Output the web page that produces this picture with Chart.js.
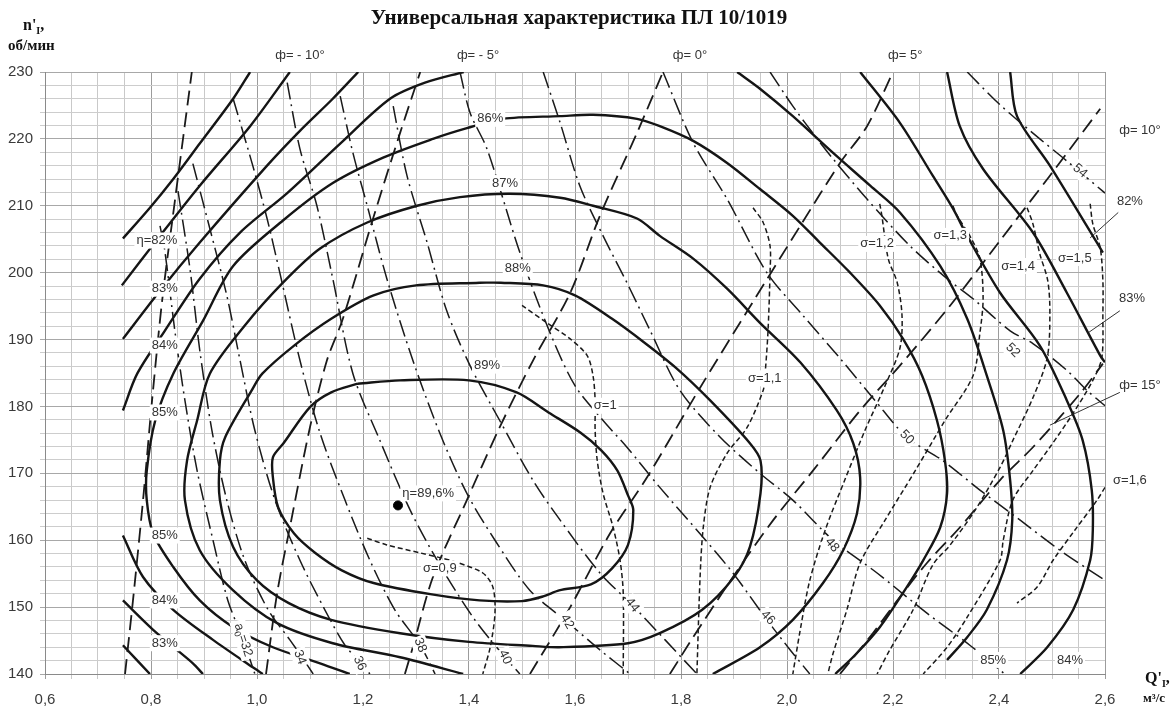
<!DOCTYPE html>
<html>
<head>
<meta charset="utf-8">
<script src="https://cdn.jsdelivr.net/npm/chart.js@4.4.1/dist/chart.umd.min.js"></script>
<style>
html,body{margin:0;padding:0;background:#fff;}
#wrap{width:1174px;height:708px;position:relative;}
</style>
</head>
<body>
<div id="wrap"><canvas id="c" width="1174" height="708"></canvas></div>
<script>
// Axis tick labels
const Q_LABELS = ['0,6','0,8','1,0','1,2','1,4','1,6','1,8','2,0','2,2','2,4','2,6'];
const N_LABELS = ['140','150','160','170','180','190','200','210','220','230'];

// Efficiency contours η = const, points [Q'1, n'1]
const eta89 = [[1.19,183.4],[1.27,183.9],[1.40,183.9],[1.49,182.1],[1.55,179.1],[1.61,176.1],[1.65,173.4],[1.68,170.4],[1.70,166.7],[1.71,164.5],[1.70,159.3],[1.67,155.8],[1.63,153.4],[1.57,152.5],[1.54,151.6],[1.50,150.9],[1.42,151.0],[1.33,151.9],[1.22,153.6],[1.16,155.5],[1.11,158.1],[1.07,161.0],[1.04,164.9],[1.03,169.4],[1.03,172.4],[1.05,174.5],[1.10,179.9],[1.14,182.1],[1.19,183.4]];
const eta88 = [[1.42,198.5],[1.30,198.1],[1.22,196.6],[1.14,193.1],[1.07,189.1],[1.01,184.9],[0.99,182.4],[0.94,175.4],[0.93,171.9],[0.93,166.0],[0.955,159.0],[1.00,154.0],[1.06,150.6],[1.14,148.1],[1.27,146.1],[1.40,144.8],[1.52,144.2],[1.57,144.0],[1.70,144.6],[1.76,146.1],[1.84,149.6],[1.90,154.5],[1.93,159.0],[1.95,167.0],[1.95,171.9],[1.93,174.5],[1.855,180.9],[1.79,185.8],[1.73,189.6],[1.67,193.1],[1.60,196.6],[1.54,198.1],[1.46,198.5],[1.42,198.5]];
const eta87 = [[1.389,140.0],[1.27,142.5],[1.143,144.6],[1.038,147.6],[0.955,152.5],[0.892,158.5],[0.864,166.0],[0.868,171.9],[0.887,177.9],[0.911,184.9],[0.977,192.1],[1.049,198.5],[1.119,203.6],[1.208,207.5],[1.302,210.0],[1.383,211.3],[1.477,211.8],[1.572,211.2],[1.634,210.0],[1.717,208.1],[1.760,205.5],[1.823,202.1],[1.887,197.6],[1.949,192.5],[2.025,186.6],[2.094,179.4],[2.125,174.5],[2.138,169.4],[2.132,164.0],[2.106,158.5],[2.068,153.6],[2.011,148.1],[1.949,144.0],[1.860,140.0]];
const eta86 = [[1.175,140.0],[1.119,141.6],[1.030,144.0],[0.955,147.0],[0.892,151.0],[0.842,156.0],[0.804,161.0],[0.792,166.0],[0.792,170.4],[0.808,177.9],[0.842,184.9],[0.898,192.8],[0.955,201.0],[1.049,207.8],[1.143,213.4],[1.238,217.2],[1.332,220.0],[1.396,221.6],[1.464,223.0],[1.572,223.4],[1.634,223.6],[1.717,223.0],[1.760,221.9],[1.823,219.7],[1.887,216.4],[1.949,212.5],[2.011,208.5],[2.062,204.5],[2.119,200.0],[2.175,195.1],[2.219,190.1],[2.255,184.6],[2.283,177.9],[2.298,171.9],[2.302,167.0],[2.289,161.9],[2.257,157.0],[2.226,153.0],[2.175,147.0],[2.128,142.8],[2.091,140.0]];
const eta85Upper = [[0.747,179.4],[0.774,184.9],[0.826,191.3],[0.892,199.1],[0.968,206.0],[1.057,211.9],[1.157,219.3],[1.251,226.0],[1.317,228.4],[1.39,230.0]];
const eta85Right = [[1.906,230.0],[1.949,227.5],[2.011,223.4],[2.087,217.9],[2.157,213.0],[2.213,209.0],[2.289,201.0],[2.340,193.1],[2.377,184.6],[2.408,176.4],[2.421,169.0],[2.425,163.0],[2.415,157.0],[2.377,149.6],[2.340,145.5],[2.302,142.1]];
const eta85Lower = [[0.747,160.7],[0.785,154.5],[0.842,149.6],[0.917,145.1],[0.992,141.0],[1.011,140.0]];
const eta84Upper = [[0.747,190.1],[0.817,197.3],[0.892,204.5],[1.019,216.0],[1.081,221.2],[1.143,226.0],[1.191,230.0]];
const eta84Right = [[2.138,230.0],[2.213,222.4],[2.275,214.5],[2.313,209.6],[2.340,205.5],[2.402,197.0],[2.477,189.1],[2.528,180.9],[2.558,174.9],[2.575,167.5],[2.577,161.5],[2.572,157.0],[2.540,149.6],[2.491,144.0],[2.440,140.0]];
const eta84Lower = [[0.747,151.0],[0.811,146.1],[0.879,141.6],[0.898,140.0]];
const eta83Upper = [[0.745,198.1],[0.817,205.5],[0.892,213.0],[0.987,221.9],[1.062,230.0]];
const eta83Right = [[2.302,230.0],[2.326,221.9],[2.370,215.5],[2.464,206.0],[2.528,197.0],[2.591,187.6],[2.600,186.6]];
const eta83Lower = [[0.747,144.3],[0.798,140.0]];
const eta82Upper = [[0.747,205.1],[0.798,209.7],[0.842,214.0],[0.892,219.3],[0.955,226.0],[0.987,230.0]];
const eta82Right = [[2.421,230.0],[2.434,223.4],[2.496,216.0],[2.577,205.5],[2.596,203.0]];
const etaMax = [[1.266,165.2]];

// Runner blade angle lines φ = const
const phiM10 = [[0.751,140.0],[0.766,151.0],[0.785,166.0],[0.802,180.9],[0.821,195.8],[0.845,210.7],[0.877,230.0]];
const phiM5 = [[1.017,140.0],[1.038,152.1],[1.062,161.9],[1.100,176.9],[1.132,186.9],[1.162,193.1],[1.219,208.1],[1.270,220.9],[1.308,230.0]];
const phi0 = [[1.279,140.0],[1.294,144.0],[1.332,154.5],[1.396,166.0],[1.458,176.9],[1.521,186.9],[1.591,197.0],[1.647,208.5],[1.717,220.9],[1.766,230.0]];
const phi5 = [[1.515,140.0],[1.591,150.0],[1.666,161.0],[1.736,169.4],[1.836,182.8],[1.930,194.9],[2.025,207.0],[2.100,216.4],[2.151,221.9],[2.200,230.0]];
const phi10 = [[1.779,140.0],[1.823,145.5],[1.898,154.5],[1.974,163.0],[2.049,170.4],[2.138,179.4],[2.213,186.1],[2.308,195.1],[2.402,204.8],[2.496,214.5],[2.591,224.5]];
const phi15 = [[2.100,140.0],[2.162,146.1],[2.213,151.5],[2.264,156.6],[2.326,161.9],[2.402,169.0],[2.464,173.9],[2.515,178.4],[2.558,182.4],[2.596,186.4]];

// Guide vane opening lines a0 = const
const a0_32 = [[0.817,207.0],[0.826,203.3],[0.845,191.3],[0.864,180.9],[0.887,170.4],[0.917,160.0],[0.945,151.0],[0.974,145.1],[0.996,140.0]];
const a0_34 = [[0.851,212.2],[0.874,200.3],[0.892,188.4],[0.915,176.4],[0.943,166.0],[0.977,157.0],[1.021,149.6],[1.062,145.1],[1.085,142.5],[1.106,140.0]];
const a0_36 = [[0.879,216.3],[0.911,206.6],[0.943,196.6],[0.968,186.9],[0.996,176.4],[1.034,166.0],[1.081,157.0],[1.128,149.6],[1.166,144.3],[1.194,141.8],[1.213,140.0]];
const a0_38 = [[0.955,226.0],[0.992,216.0],[1.019,208.1],[1.043,200.0],[1.081,186.9],[1.119,176.0],[1.166,166.0],[1.213,157.0],[1.260,149.6],[1.308,144.3],[1.336,140.0]];
const a0_40 = [[1.057,228.4],[1.081,218.5],[1.113,210.0],[1.143,199.1],[1.181,184.9],[1.232,174.9],[1.289,164.5],[1.345,156.3],[1.411,148.1],[1.468,142.5],[1.496,140.0]];
const a0_42 = [[1.157,226.4],[1.181,217.9],[1.208,210.0],[1.245,199.1],[1.294,186.9],[1.345,176.0],[1.396,167.0],[1.449,160.0],[1.515,152.5],[1.585,147.8],[1.647,143.6],[1.704,140.0]];
const a0_44 = [[1.257,224.9],[1.283,214.5],[1.321,204.5],[1.358,194.3],[1.402,186.1],[1.458,177.9],[1.521,168.9],[1.572,163.0],[1.647,155.1],[1.708,150.3],[1.770,145.1],[1.830,140.0]];
const a0_46 = [[1.383,230.0],[1.402,223.9],[1.434,218.5],[1.496,203.0],[1.553,191.0],[1.600,183.1],[1.653,177.9],[1.698,173.9],[1.760,167.9],[1.842,160.4],[1.898,155.1],[1.962,148.1],[2.006,143.6],[2.043,140.0]];
const a0_48 = [[1.540,230.0],[1.572,222.4],[1.609,213.0],[1.653,205.5],[1.698,198.5],[1.742,191.3],[1.798,182.4],[1.874,175.4],[1.949,170.0],[2.011,166.0],[2.087,160.0],[2.170,155.1],[2.264,149.1],[2.345,144.3],[2.411,140.0]];
const a0_50 = [[1.766,230.0],[1.823,219.4],[1.887,211.0],[1.962,200.0],[2.030,193.6],[2.100,187.2],[2.166,180.9],[2.226,175.4],[2.294,171.9],[2.364,167.5],[2.440,163.0],[2.515,158.5],[2.600,154.0]];
const a0_52 = [[1.968,230.0],[2.011,224.9],[2.057,220.0],[2.087,217.0],[2.151,211.0],[2.232,204.0],[2.302,199.1],[2.351,196.1],[2.421,191.3],[2.464,189.4],[2.528,185.4],[2.566,182.4],[2.600,180.1]];
const a0_54 = [[2.340,230.0],[2.402,225.1],[2.477,220.0],[2.528,216.7],[2.600,211.9]];

// Cavitation coefficient lines σ = const
const sig09 = [[1.208,160.3],[1.245,159.3],[1.308,158.1],[1.345,157.4],[1.377,156.7],[1.426,155.1],[1.445,153.0],[1.449,149.1],[1.440,144.0],[1.426,140.0]];
const sig10 = [[1.500,195.1],[1.547,192.5],[1.591,190.1],[1.623,187.6],[1.634,184.6],[1.638,180.9],[1.638,176.4],[1.642,171.9],[1.653,167.0],[1.672,161.9],[1.685,157.0],[1.691,152.1],[1.691,140.0]];
const sig11 = [[1.936,209.7],[1.955,207.5],[1.968,204.0],[1.968,200.0],[1.964,191.0],[1.958,184.2],[1.955,182.4],[1.925,176.9],[1.887,173.0],[1.855,167.9],[1.842,161.9],[1.836,154.5],[1.830,140.0]];
const sig12 = [[2.175,210.3],[2.179,208.5],[2.191,202.1],[2.208,198.5],[2.217,193.6],[2.213,188.7],[2.185,183.1],[2.147,176.4],[2.109,169.0],[2.072,161.5],[2.043,154.0],[2.025,146.6],[2.011,140.0]];
const sig13 = [[2.313,210.0],[2.321,208.5],[2.345,205.5],[2.364,202.1],[2.370,196.1],[2.364,191.0],[2.351,184.6],[2.298,177.9],[2.242,170.4],[2.185,163.0],[2.138,156.6],[2.113,149.6],[2.087,143.1],[2.077,140.0]];
const sig14 = [[2.453,209.7],[2.464,207.3],[2.477,202.8],[2.492,198.8],[2.496,193.9],[2.491,187.3],[2.464,181.3],[2.426,174.9],[2.402,170.9],[2.355,164.5],[2.308,159.3],[2.275,156.3],[2.238,149.6],[2.194,143.6],[2.170,140.0]];
const sig15 = [[2.572,210.3],[2.577,207.3],[2.591,203.7],[2.596,198.8],[2.596,193.9],[2.594,187.3],[2.577,183.9],[2.540,179.0],[2.496,173.9],[2.464,170.4],[2.426,166.0],[2.408,160.0],[2.402,157.0],[2.340,148.5],[2.302,144.0],[2.257,140.0]];
const sig16 = [[2.600,167.9],[2.585,166.0],[2.543,161.5],[2.502,157.0],[2.472,153.0],[2.434,150.6]];

// Leader lines for the labels beyond the right edge
const lead82 = [[2.625,209.0],[2.572,205.2]];
const lead83 = [[2.628,194.3],[2.568,191.0]];
const leadPhi15 = [[2.628,182.1],[2.496,177.2]];

// Curve labels: [text, Q'1, n'1]
const etaLabels = [['η=82%',0.811,204.8],['83%',0.826,197.6],['84%',0.826,189.1],['85%',0.826,179.1],['86%',1.440,223.0],['87%',1.468,213.4],['88%',1.492,200.6],['89%',1.434,186.1],['η=89,6%',1.323,167.0],['85%',0.826,160.7],['84%',0.826,151.0],['83%',0.826,144.6],['85%',2.389,142.1],['84%',2.534,142.1]];
const sigmaLabels = [['σ=0,9',1.345,155.8],['σ=1',1.657,180.1],['σ=1,1',1.958,184.2],['σ=1,2',2.170,204.3],['σ=1,3',2.308,205.5],['σ=1,4',2.436,201.0],['σ=1,5',2.543,202.2]];
// [text, Q'1, n'1, rotation in degrees]
const a0Labels = [['32',0.974,145.1,72],['34',1.081,142.5,70],['36',1.194,141.6,66],['38',1.308,144.3,68],['40',1.468,142.5,64],['42',1.585,147.8,60],['44',1.708,150.3,52],['46',1.964,148.4,46],['48',2.085,159.3,50],['50',2.226,175.4,46],['52',2.426,188.4,45],['54',2.553,215.2,40]];
const edgeLabels = [['ф= - 10°',1.081,232.5],['ф= - 5°',1.417,232.5],['ф= 0°',1.817,232.5],['ф= 5°',2.223,232.5],['ф= 10°',2.666,221.2],['82%',2.647,210.7],['83%',2.651,196.1],['ф= 15°',2.666,183.1],['σ=1,6',2.647,169.0]];

const TITLE = 'Универсальная характеристика ПЛ 10/1019';
const LABEL_FONT = '"Liberation Sans", Arial, sans-serif';
const SERIF = '"Liberation Serif", "Times New Roman", serif';

const SOLID = {borderColor:'#151515', borderWidth:2.4};
const PHI = {borderColor:'#1a1a1a', borderWidth:1.8, borderDash:[15,7]};
const A0 = {borderColor:'#1a1a1a', borderWidth:1.5, borderDash:[17,5,2,5]};
const SIG = {borderColor:'#1a1a1a', borderWidth:1.5, borderDash:[5,3]};
const LEAD = {borderColor:'#333', borderWidth:1, clip:false, tension:0};

function line(points, style) {
  return Object.assign({
    data: points.map(p => ({x:p[0], y:p[1]})),
    showLine:true, pointRadius:0, fill:false, tension:0.3
  }, style);
}

const datasets = [
  ...[phiM10, phiM5, phi0, phi5, phi10, phi15].map(d => line(d, PHI)),
  ...[a0_32,a0_34,a0_36,a0_38,a0_40,a0_42,a0_44,a0_46,a0_48,a0_50,a0_52,a0_54].map(d => line(d, A0)),
  ...[sig09,sig10,sig11,sig12,sig13,sig14,sig15,sig16].map(d => line(d, SIG)),
  ...[eta89,eta88,eta87,eta86,eta85Upper,eta85Right,eta85Lower,eta84Upper,eta84Right,eta84Lower,
      eta83Upper,eta83Right,eta83Lower,eta82Upper,eta82Right].map(d => line(d, SOLID)),
  ...[lead82, lead83, leadPhi15].map(d => line(d, LEAD)),
  {data: etaMax.map(p => ({x:p[0], y:p[1]})), showLine:false, pointRadius:4.5,
   pointBackgroundColor:'#000', pointBorderColor:'#000'}
];

function boxText(ctx, text, x, y, bg) {
  const w = ctx.measureText(text).width;
  if (bg) { ctx.fillStyle = '#fff'; ctx.fillRect(x - w/2 - 2, y - 8, w + 4, 16); }
  ctx.fillStyle = '#333';
  ctx.fillText(text, x, y);
}

const annotations = {
  id:'annotations',
  afterDatasetsDraw(chart) {
    const ctx = chart.ctx, xs = chart.scales.x, ys = chart.scales.y;
    ctx.save();
    ctx.textAlign = 'center'; ctx.textBaseline = 'middle';
    ctx.font = '13px ' + LABEL_FONT;
    etaLabels.concat(sigmaLabels).forEach(l => boxText(ctx, l[0], xs.getPixelForValue(l[1]), ys.getPixelForValue(l[2]), true));
    edgeLabels.forEach(l => boxText(ctx, l[0], xs.getPixelForValue(l[1]), ys.getPixelForValue(l[2]), false));
    a0Labels.forEach((l, i) => {
      const x = xs.getPixelForValue(l[1]), y = ys.getPixelForValue(l[2]);
      ctx.save();
      ctx.translate(x, y);
      ctx.rotate(l[3] * Math.PI / 180);
      if (i === 0) {
        // "a0=32" with a subscript
        ctx.font = '13px ' + LABEL_FONT;
        const wa = ctx.measureText('a').width;
        ctx.font = '9px ' + LABEL_FONT;
        const w0 = ctx.measureText('0').width;
        ctx.font = '13px ' + LABEL_FONT;
        const wr = ctx.measureText('=' + l[0]).width;
        const w = wa + w0 + wr;
        ctx.fillStyle = '#fff'; ctx.fillRect(-w/2 - 3, -8, w + 6, 16);
        ctx.fillStyle = '#333'; ctx.textAlign = 'left';
        ctx.fillText('a', -w/2, 0);
        ctx.font = '9px ' + LABEL_FONT; ctx.fillText('0', -w/2 + wa, 4);
        ctx.font = '13px ' + LABEL_FONT; ctx.fillText('=' + l[0], -w/2 + wa + w0, 0);
      } else {
        boxText(ctx, l[0], 0, 0, true);
      }
      ctx.restore();
    });
    ctx.restore();
  },
  afterDraw(chart) {
    const ctx = chart.ctx;
    ctx.save();
    ctx.fillStyle = '#111';
    ctx.textBaseline = 'alphabetic';
    // title, sized to its span above the plot
    let fs = 22;
    ctx.font = 'bold ' + fs + 'px ' + SERIF;
    while (ctx.measureText(TITLE).width > 422 && fs > 10) { fs -= 0.5; ctx.font = 'bold ' + fs + 'px ' + SERIF; }
    ctx.textAlign = 'center';
    ctx.fillText(TITLE, 579, 24);
    // y axis title n'I, об/мин
    ctx.textAlign = 'left';
    ctx.font = 'bold 16px ' + SERIF;
    ctx.fillText("n'", 23, 30);
    let w = ctx.measureText("n'").width;
    ctx.font = 'bold 10px ' + SERIF;
    ctx.fillText('I', 23 + w, 34);
    const wi = ctx.measureText('I').width;
    ctx.font = 'bold 16px ' + SERIF;
    ctx.fillText(',', 23 + w + wi, 30);
    ctx.font = 'bold 15px ' + SERIF;
    ctx.fillText('об/мин', 8, 50);
    // x axis title Q'I, м³/с
    ctx.font = 'bold 16px ' + SERIF;
    ctx.fillText("Q'", 1145, 683);
    w = ctx.measureText("Q'").width;
    ctx.font = 'bold 10px ' + SERIF;
    ctx.fillText('I', 1145 + w, 687);
    ctx.font = 'bold 16px ' + SERIF;
    ctx.fillText(',', 1145 + w + wi, 683);
    ctx.font = 'bold 13px ' + SERIF;
    ctx.fillText('м³/с', 1143, 702);
    ctx.restore();
  }
};

const isMajorQ = v => Math.abs(v * 5 - Math.round(v * 5)) < 1e-6;
const isMajorN = v => Math.abs(v % 10) < 1e-6;

new Chart(document.getElementById('c'), {
  type:'scatter',
  data:{datasets},
  options:{
    responsive:false, animation:false, devicePixelRatio:1, events:[],
    layout:{padding:{left:0, top:72, right:69, bottom:0}},
    plugins:{legend:{display:false}, tooltip:{enabled:false}, title:{display:false}},
    scales:{
      x:{
        type:'linear', min:0.6, max:2.6,
        afterBuildTicks(s) {
          const t = [];
          for (let i = 0; i <= 40; i++) t.push({value: Math.round((0.6 + i * 0.05) * 1000) / 1000});
          s.ticks = t;
        },
        afterFit(s) { s.height = 34; },
        ticks:{
          autoSkip:false, maxRotation:0, padding:12, color:'#3a3a3a',
          font:{family:'"Liberation Sans", Arial, sans-serif', size:15},
          callback:(v, i) => i % 4 === 0 ? Q_LABELS[i / 4] : ''
        },
        grid:{
          color: c => (c.tick && isMajorQ(c.tick.value)) ? '#9c9c9c' : '#c9c9c9',
          lineWidth:1, tickLength:5
        },
        border:{color:'#8a8a8a'}
      },
      y:{
        type:'linear', min:140, max:230,
        afterBuildTicks(s) {
          const t = [];
          for (let v = 140; v <= 230; v += 2) t.push({value:v});
          s.ticks = t;
        },
        afterFit(s) { s.width = 45; },
        ticks:{
          autoSkip:false, padding:7, color:'#3a3a3a',
          font:{family:'"Liberation Sans", Arial, sans-serif', size:15},
          callback:(v) => isMajorN(v) ? N_LABELS[(v - 140) / 10] : ''
        },
        grid:{
          color: c => (c.tick && isMajorN(c.tick.value)) ? '#a8a8a8' : '#cdcdcd',
          lineWidth:1, tickLength:5
        },
        border:{color:'#8a8a8a'}
      }
    }
  },
  plugins:[annotations]
});
</script>
</body>
</html>
